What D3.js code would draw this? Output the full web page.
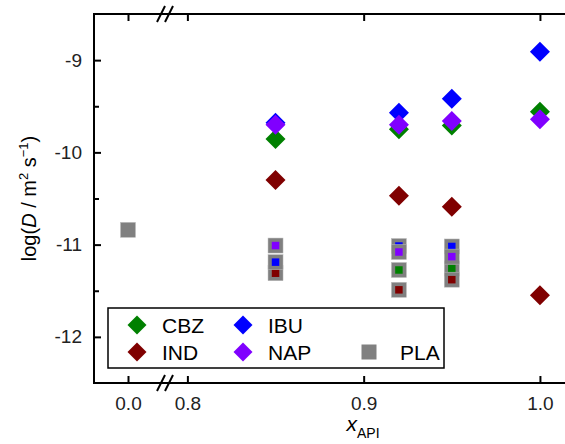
<!DOCTYPE html>
<html>
<head>
<meta charset="utf-8">
<script src="https://cdn.jsdelivr.net/npm/d3@7"></script>
<style>
  body { margin: 0; background: #fff; }
  svg { display: block; font-family: "Liberation Sans", Arial, sans-serif; }
</style>
</head>
<body>
<div id="chart"></div>
<script>
// Diamond series (drug fraction in blend)
const drugX = [0.85, 0.92, 0.95, 1.0];
const cbzVals = [-9.855, -9.75, -9.71, -9.56];
const indVals = [-10.30, -10.47, -10.59, -11.55];
const ibuVals = [-9.68, -9.57, -9.42, -8.91];
const napVals = [-9.70, -9.70, -9.66, -9.64];

// PLA measured in blends (gray square, drug-coloured centre)
const blendX = [0.85, 0.92, 0.95];
const cbzPla = [null, -11.275, -11.26];
const indPla = [-11.31, -11.49, -11.38];
const ibuPla = [-11.19, -11.015, -11.02];
const napPla = [-11.01, -11.08, -11.13];

// pure PLA
const plaX = [0.0];
const plaVals = [-10.84];

const xTicks = [0.0, 0.8, 0.9, 1.0];
const yTicks = [-9, -10, -11, -12];
const yMinor = [-9.5, -10.5, -11.5];

const colors = { CBZ: "#008000", IND: "#800000", IBU: "#0000ff", NAP: "#8000ff", PLA: "#808080" };

const width = 565, height = 444;
const margin = { left: 94, top: 14, bottom: 383, right: 584 };

const svg = d3.select("#chart").append("svg")
  .attr("width", width)
  .attr("height", height);

// broken x axis: [-0.05, 0.05] | [0.789, 1.025]
const x = d3.scaleLinear()
  .domain([-0.05, 0.05, 0.789, 1.025])
  .range([margin.left, 162, 168, margin.right]);

const y = d3.scaleLinear()
  .domain([-12.5, -8.5])
  .range([margin.bottom, margin.top]);

// frame
const frame = svg.append("g")
  .attr("stroke", "#000")
  .attr("stroke-width", 2)
  .attr("fill", "none");
frame.append("path")
  .attr("d", `M${margin.right},${margin.top}H${margin.left}V${margin.bottom}H${margin.right}`);

// x ticks (top and bottom, inward)
const xAxisB = d3.axisBottom(x).tickValues(xTicks).tickSizeInner(-7).tickSizeOuter(0)
  .tickPadding(14).tickFormat(d3.format(".1f"));
const gxb = svg.append("g").attr("transform", `translate(0,${margin.bottom})`).call(xAxisB);
const xAxisT = d3.axisTop(x).tickValues(xTicks).tickSizeInner(-7).tickSizeOuter(0).tickFormat("");
const gxt = svg.append("g").attr("transform", `translate(0,${margin.top})`).call(xAxisT);

// y ticks (inward)
const yAxis = d3.axisLeft(y).tickValues(yTicks).tickSizeInner(-7).tickSizeOuter(0)
  .tickPadding(12).tickFormat(d => d3.format("d")(d).replace("−", "-"));
const gy = svg.append("g").attr("transform", `translate(${margin.left},0)`).call(yAxis);
const yAxisMinor = d3.axisLeft(y).tickValues(yMinor).tickSizeInner(-5).tickSizeOuter(0).tickFormat("");
const gym = svg.append("g").attr("transform", `translate(${margin.left},0)`).call(yAxisMinor);

[gxb, gxt, gy, gym].forEach(g => {
  g.select(".domain").remove();
  g.selectAll(".tick line").attr("stroke", "#000").attr("stroke-width", 2);
  g.selectAll(".tick text")
    .attr("fill", "#222")
    .style("font-size", "19px")
    .style("font-family", "'Liberation Sans', Arial, sans-serif");
});

// axis break marks
[margin.top, margin.bottom].forEach(yy => {
  [161, 169].forEach(cx => {
    svg.append("line")
      .attr("x1", cx - 4).attr("y1", yy + 8)
      .attr("x2", cx + 4).attr("y2", yy - 8)
      .attr("stroke", "#000").attr("stroke-width", 2);
  });
});

// axis titles
const yTitle = svg.append("text")
  .attr("transform", `translate(36,${(margin.top + margin.bottom) / 2}) rotate(-90)`)
  .attr("text-anchor", "middle")
  .style("font-size", "20px")
  .attr("fill", "#000");
yTitle.append("tspan").text("log(");
yTitle.append("tspan").style("font-style", "italic").text("D");
yTitle.append("tspan").text(" / m");
yTitle.append("tspan").attr("dy", -8).style("font-size", "13px").text("2");
yTitle.append("tspan").attr("dy", 8).text(" s");
yTitle.append("tspan").attr("dy", -8).style("font-size", "13px").text("\u22121");
yTitle.append("tspan").attr("dy", 8).text(")");

const xTitle = svg.append("text")
  .attr("x", 363).attr("y", 431)
  .attr("text-anchor", "middle")
  .style("font-size", "21px")
  .attr("fill", "#000");
xTitle.append("tspan").style("font-style", "italic").text("x");
xTitle.append("tspan").attr("dy", 7).style("font-size", "14px").text("API");

// markers
const diamond = d3.symbol().type(d3.symbolSquare).size(200);
const plot = svg.append("g");

function drawPla(xs, vals, inner) {
  xs.forEach((xv, i) => {
    const v = vals[i];
    if (v == null) return;
    plot.append("rect")
      .attr("x", x(xv) - 7.5).attr("y", y(v) - 7.5)
      .attr("width", 15).attr("height", 15)
      .attr("fill", colors.PLA)
      .attr("stroke", "#bbb").attr("stroke-width", 0.5);
    if (inner) {
      plot.append("rect")
        .attr("x", x(xv) - 3.75).attr("y", y(v) - 3.75)
        .attr("width", 7.5).attr("height", 7.5)
        .attr("fill", inner);
    }
  });
}

drawPla(plaX, plaVals, null);
drawPla(blendX, cbzPla, colors.CBZ);
drawPla(blendX, indPla, colors.IND);
drawPla(blendX, ibuPla, colors.IBU);
drawPla(blendX, napPla, colors.NAP);

function drawDiamonds(vals, color) {
  plot.selectAll(null)
    .data(vals.map((v, i) => ({ x: drugX[i], v })))
    .enter()
    .append("path")
    .attr("d", diamond)
    .attr("transform", d => `translate(${x(d.x)},${y(d.v)}) rotate(45)`)
    .attr("fill", color);
}

drawDiamonds(cbzVals, colors.CBZ);
drawDiamonds(indVals, colors.IND);
drawDiamonds(ibuVals, colors.IBU);
drawDiamonds(napVals, colors.NAP);

// legend
const legend = svg.append("g");
legend.append("rect")
  .attr("x", 108).attr("y", 308)
  .attr("width", 336).attr("height", 60)
  .attr("fill", "#fff")
  .attr("stroke", "#000").attr("stroke-width", 1.5);

const legendData = [
  { label: "CBZ", color: colors.CBZ, shape: "diamond", cx: 137, cy: 325 },
  { label: "IBU", color: colors.IBU, shape: "diamond", cx: 243, cy: 325 },
  { label: "IND", color: colors.IND, shape: "diamond", cx: 137, cy: 352 },
  { label: "NAP", color: colors.NAP, shape: "diamond", cx: 243, cy: 352 },
  { label: "PLA", color: colors.PLA, shape: "square", cx: 369, cy: 352 }
];

legendData.forEach(d => {
  if (d.shape === "diamond") {
    legend.append("path")
      .attr("d", d3.symbol().type(d3.symbolSquare).size(180))
      .attr("transform", `translate(${d.cx},${d.cy}) rotate(45)`)
      .attr("fill", d.color);
  } else {
    legend.append("rect")
      .attr("x", d.cx - 7.5).attr("y", d.cy - 7.5)
      .attr("width", 15).attr("height", 15)
      .attr("fill", d.color);
  }
  legend.append("text")
    .attr("x", d.shape === "square" ? d.cx + 31 : d.cx + 25)
    .attr("y", d.cy + 7.5)
    .style("font-size", "21px")
    .attr("fill", "#000")
    .text(d.label);
});
</script>
</body>
</html>
